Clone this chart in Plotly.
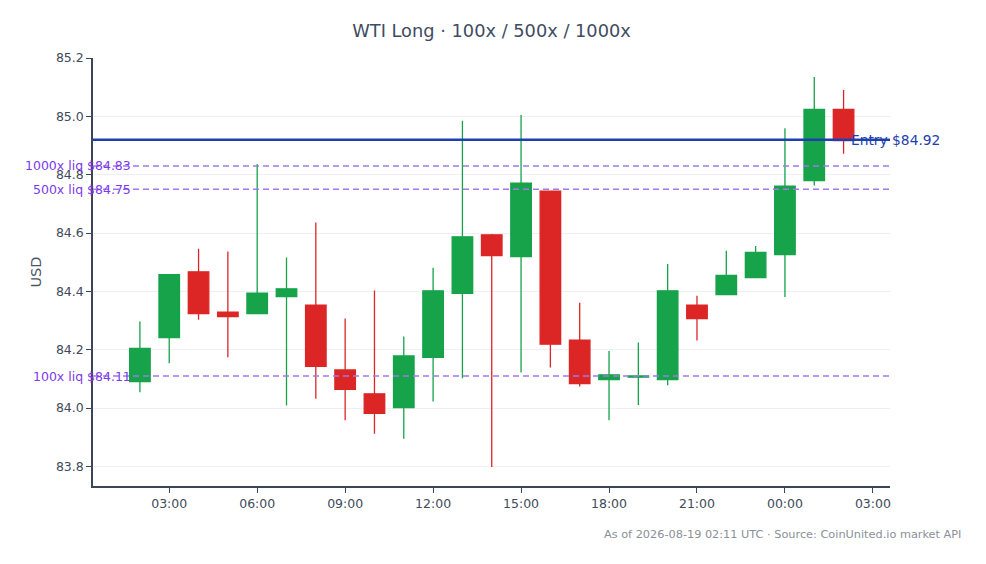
"""
WTI Long candlestick chart with entry price and liquidation levels for
100x / 500x / 1000x leverage.
"""
import pandas as pd
import plotly.graph_objects as go

# --- Data ---
START_TIME = "2026-08-18 02:00"
N_CANDLES = 25

opens = [84.091, 84.242, 84.467, 84.329, 84.324, 84.382, 84.353, 84.131, 84.049,
         84.002, 84.174, 84.393, 84.594, 84.519, 84.744, 84.233, 84.098, 84.106,
         84.098, 84.353, 84.389, 84.447, 84.526, 84.780, 85.024]
highs = [84.297, 84.460, 84.546, 84.537, 84.837, 84.516, 84.636, 84.307, 84.403,
         84.245, 84.481, 84.985, 84.597, 85.005, 84.746, 84.361, 84.196, 84.225,
         84.494, 84.385, 84.539, 84.556, 84.959, 85.135, 85.090]
lows = [84.054, 84.154, 84.303, 84.174, 84.322, 84.009, 84.032, 83.958, 83.912,
        83.895, 84.023, 84.102, 83.798, 84.122, 84.139, 84.074, 83.958, 84.011,
        84.078, 84.232, 84.387, 84.445, 84.381, 84.763, 84.872]
closes = [84.205, 84.457, 84.324, 84.314, 84.394, 84.409, 84.143, 84.064, 83.982,
          84.179, 84.402, 84.587, 84.523, 84.771, 84.219, 84.084, 84.114, 84.110,
          84.402, 84.307, 84.455, 84.534, 84.761, 85.024, 84.917]

ENTRY_PRICE = 84.92
liq_labels = ["1000x liq $84.83", "500x liq $84.75", "100x liq $84.11"]
liq_prices = [84.83, 84.75, 84.11]

TITLE = "WTI Long · 100x / 500x / 1000x"
FOOTER = "As of 2026-08-19 02:11 UTC · Source: CoinUnited.io market API"

# --- Styles ---
FONT = "DejaVu Sans"
GREEN = "#16a34a"
RED = "#dc2626"
ENTRY_COLOR = "#1e40af"
LIQ_LINE = "#9f7aea"
LIQ_TEXT = "#7c3aed"
AXIS_COLOR = "#3b4658"


def main():
    times = pd.date_range(START_TIME, periods=N_CANDLES, freq="h")

    fig = go.Figure()
    fig.add_trace(go.Candlestick(
        x=times, open=opens, high=highs, low=lows, close=closes,
        increasing=dict(line=dict(color=GREEN, width=1.3), fillcolor=GREEN),
        decreasing=dict(line=dict(color=RED, width=1.3), fillcolor=RED),
        whiskerwidth=0,
        showlegend=False,
    ))

    # liquidation levels
    for label, price in zip(liq_labels, liq_prices):
        fig.add_hline(y=price, line=dict(color=LIQ_LINE, width=1.5, dash="6px,4px"))
        fig.add_annotation(
            x=0, xref="paper", y=price, yref="y", text=label,
            xanchor="right", yanchor="middle", xshift=40, showarrow=False,
            font=dict(family=FONT, size=12.5, color=LIQ_TEXT),
        )

    # entry price
    fig.add_hline(y=ENTRY_PRICE, line=dict(color=ENTRY_COLOR, width=2.5))
    fig.add_annotation(
        x=1, xref="paper", y=ENTRY_PRICE, yref="y", text=f"Entry ${ENTRY_PRICE:.2f}",
        xanchor="left", yanchor="middle", xshift=-41, showarrow=False,
        font=dict(family=FONT, size=13.8, color=ENTRY_COLOR),
    )

    fig.add_annotation(
        x=1, xref="paper", y=0, yref="paper", text=FOOTER,
        xanchor="right", yanchor="top", xshift=73, yshift=-40, showarrow=False,
        font=dict(family=FONT, size=11.3, color="#8a9099"),
    )

    fig.update_layout(
        width=986, height=564,
        title=dict(text=TITLE, x=(85 + 882) / 2 / 986, xanchor="center",
                   y=1 - 23 / 564, yref="container", yanchor="middle",
                   font=dict(family=FONT, size=17.8, color="#3f4c5f")),
        font=dict(family=FONT, size=12.5, color="#3f4a5a"),
        paper_bgcolor="white", plot_bgcolor="white",
        margin=dict(l=85, r=104, t=50, b=86),
        boxgap=0.3, boxgroupgap=0,
        xaxis=dict(
            rangeslider=dict(visible=False),
            range=[pd.Timestamp("2026-08-18 00:24"), pd.Timestamp("2026-08-19 03:35")],
            tickformat="%H:%M", dtick=3 * 3600 * 1000,
            tick0="2026-08-18 00:00",
            showgrid=False, showline=True, linecolor=AXIS_COLOR, linewidth=1.5,
            ticks="outside", ticklen=5, tickcolor=AXIS_COLOR,
        ),
        yaxis=dict(
            title=dict(text="USD", font=dict(size=14.5, color="#4a5568"), standoff=11),
            range=[83.733, 85.2], dtick=0.2, tickformat=".1f",
            showgrid=True, gridcolor="#eceff3", zeroline=False,
            showline=True, linecolor=AXIS_COLOR, linewidth=1.5,
            ticks="outside", ticklen=5, tickcolor=AXIS_COLOR,
        ),
    )

    fig.write_html("out.html")


if __name__ == "__main__":
    main()
